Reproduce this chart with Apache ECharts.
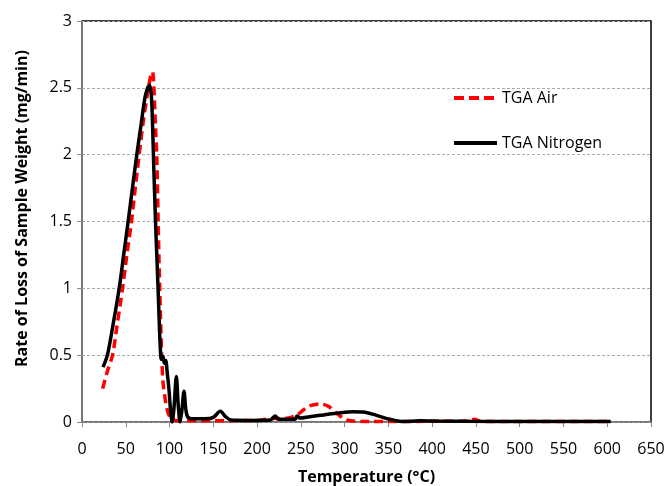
<!DOCTYPE html>
<html>
<head>
<meta charset="utf-8">
<script src="https://cdn.jsdelivr.net/npm/echarts@6/dist/echarts.min.js"></script>
<style>html,body{margin:0;padding:0;background:#fff}#c{width:667px;height:486px}</style>
</head>
<body>
<div id="c"></div>
<script>
var xTicks = [0,50,100,150,200,250,300,350,400,450,500,550,600,650];
var yTicks = [0,0.5,1,1.5,2,2.5,3];

var airT = [23.6,29,34.9,40,46.3,51,56.5,61,65.3,70,75.9,78.5,80.5,82,84,85.4,87,88.8,91,92.5,94.4,97,99.4,103,110,150,200,215,234,245,253,260,272,282,291,302.5,329,400,440,448.5,455,500,600];
var airY = [0.25,0.38,0.5,0.72,1.0,1.24,1.5,1.76,2.0,2.25,2.5,2.59,2.62,2.52,2.2,2.0,1.5,1.0,0.5,0.3,0.2,0.1,0.05,0.02,0.01,0.01,0.012,0.025,0.028,0.05,0.09,0.12,0.135,0.115,0.065,0.015,0.003,0.005,0.005,0.02,0.005,0.004,0.003];

var n2T = [24,29,35,42.5,48,52.7,58,62.6,68,72,75,77,79,80.5,82,84,86,87,88.5,90,91,92.5,94,95.6,97.5,99.4,101,103,105,107.8,110,112,114,116.5,118.5,120.5,125,140,150,158,164,170,190,215,220.7,224.5,243.5,245.5,249,260,272,291,310,321,336.5,351.7,367,386,405,443,500,550,604];
var n2Y = [0.41,0.5,0.71,1.0,1.27,1.5,1.77,2.0,2.25,2.43,2.5,2.52,2.46,2.25,1.9,1.5,1.15,0.98,0.7,0.49,0.47,0.49,0.44,0.46,0.36,0.24,0.1,0.0,0.1,0.34,0.12,0.0,0.08,0.23,0.1,0.04,0.025,0.025,0.035,0.08,0.04,0.015,0.012,0.015,0.045,0.02,0.02,0.045,0.03,0.04,0.05,0.065,0.077,0.075,0.05,0.02,0.003,0.01,0.007,0.005,0.004,0.003,0.003];

function pairs(a,b){return a.map(function(v,i){return [v,b[i]];});}

var FONT = '"Open Sans", sans-serif';
var chart = echarts.init(document.getElementById('c'), null, {renderer:'canvas'});
chart.setOption({
  animation:false,
  grid:{left:82, top:21, right:16, bottom:64, show:true, borderColor:'#000', borderWidth:1.5,
        outerBoundsMode:'none', containLabel:false},
  legend:{
    orient:'vertical', left:452, top:90, padding:0, itemWidth:43, itemHeight:14, itemGap:29,
    itemStyle:{opacity:0},
    textStyle:{fontFamily:FONT, fontSize:16, color:'#000'},
    data:[
      {name:'TGA Air', lineStyle:{width:4, type:[10,5], color:'#ff0000'}},
      {name:'TGA Nitrogen', lineStyle:{width:4, color:'#000'}}
    ]
  },
  xAxis:{
    type:'value', min:0, max:650, interval:50,
    name:'Temperature (°C)', nameLocation:'middle', nameGap:47,
    nameTextStyle:{fontFamily:FONT, fontSize:16, fontWeight:'bold', color:'#000'},
    axisLine:{show:true, lineStyle:{color:'#888', width:1.5}},
    axisTick:{show:true, inside:false, length:5, lineStyle:{color:'#888'}},
    axisLabel:{fontFamily:FONT, fontSize:16, color:'#000', margin:19,
      formatter:function(v){return xTicks.indexOf(v)>=0 ? String(v) : '';}},
    splitLine:{show:false}
  },
  yAxis:{
    type:'value', min:0, max:3, interval:0.5,
    name:'Rate of Loss of Sample Weight (mg/min)', nameLocation:'middle', nameGap:52,
    nameTextStyle:{fontFamily:FONT, fontSize:16, fontWeight:'bold', color:'#000', padding:[0,0,0,26]},
    axisLine:{show:true, lineStyle:{color:'#888', width:1.5}},
    axisTick:{show:true, inside:false, length:5, lineStyle:{color:'#888'}},
    axisLabel:{fontFamily:FONT, fontSize:16, color:'#000', margin:10,
      formatter:function(v){return yTicks.indexOf(v)>=0 ? String(v) : '';}},
    splitLine:{show:true, lineStyle:{color:'#aaa', type:[3,2], width:1}}
  },
  series:[
    {name:'TGA Air', type:'line', data:pairs(airT,airY), smooth:0.3, showSymbol:false, symbol:'none',
     lineStyle:{color:'#ff0000', width:3.5, type:[9,5]}, itemStyle:{color:'#ff0000'}, z:3},
    {name:'TGA Nitrogen', type:'line', data:pairs(n2T,n2Y), smooth:0.3, showSymbol:false, symbol:'none',
     lineStyle:{color:'#000', width:3.5}, itemStyle:{color:'#000'}, z:4}
  ]
});
</script>
</body>
</html>
